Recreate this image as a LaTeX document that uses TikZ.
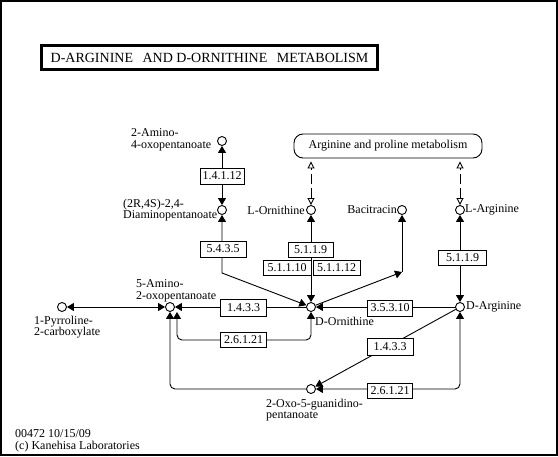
\documentclass[tikz,border=0pt]{standalone}
\usepackage{fontspec}
\setmainfont{Liberation Serif}
\usetikzlibrary{arrows.meta}
\begin{document}
\begin{tikzpicture}[x=1pt,y=-1pt,
 every node/.style={font=\fontsize{12}{12}\selectfont, inner sep=0pt},
 met/.style={draw, circle, minimum size=9pt, line width=0.9pt},
 enz/.style={draw, fill=white, minimum width=46pt, minimum height=16pt, line width=0.9pt},
 lab/.style={align=left, font=\fontsize{12}{11.5}\selectfont},
 conn/.style={line width=0.9pt},
 maplink/.style={line width=0.9pt, dash pattern=on 10pt off 4pt, ko-ko, shorten >=3pt},
 kt/.tip={Triangle[length=7pt,width=8pt]},
 ko/.tip={Triangle[open,length=7pt,width=7pt,line width=0.9pt]},
]
\useasboundingbox (0,0) rectangle (558,457);
\draw[line width=2pt] (1,1) rectangle (556.5,455.5);

% title
\node[draw, line width=3pt, minimum width=336pt, minimum height=24pt,
      font=\fontsize{14}{14}\selectfont] (title) at (209.5,57.5)
      {D-ARGININE\hspace{6pt} AND D-ORNITHINE\hspace{6pt} METABOLISM};

% map box
\node[draw, rounded corners=9pt, minimum width=188pt, minimum height=24pt, line width=0.9pt]
      (apm) at (388,146) {Arginine and proline metabolism};

% compounds
\node[met] (amino4) at (222,141) {};
\node[met] (diamino) at (222,210) {};
\node[met] (lorn) at (311,210) {};
\node[met] (bacit) at (402,210) {};
\node[met] (larg) at (460,210) {};
\node[met] (pyrr) at (62,307) {};
\node[met] (aminox) at (170,307) {};
\node[met] (dorn) at (311,307) {};
\node[met] (darg) at (460,307) {};
\node[met] (oxog) at (311,389) {};

% free points
\coordinate (bend) at (222,273);
\coordinate (bcorner) at (402,272);
\coordinate (aminoxR) at (177,312);
\coordinate (iloop) at (177,340);

% connectors
\draw[conn, kt-kt] (amino4) -- (diamino);
\draw[conn, kt-kt] (diamino) -- (bend) -- (dorn);
\draw[conn, kt-kt] (lorn) -- (dorn);
\draw[conn, -kt] (dorn) -- (bcorner);
\draw[conn, -kt] (bcorner) -- (bacit);
\draw[conn, kt-kt] (larg) -- (darg);
\draw[conn, kt-kt] (pyrr) -- (aminox);
\draw[conn, -kt] (dorn) -- (aminox);
\draw[conn, -kt] (darg) -- (dorn);
\draw[conn, -kt] (darg) -- (oxog);
\draw[conn, kt-kt, rounded corners=5pt] (dorn) |- (iloop) -- (aminoxR);
\draw[conn, kt-kt, rounded corners=5pt] (darg) |- (oxog);
\draw[conn, -kt, rounded corners=5pt] (oxog) -| (aminox);
\draw[maplink] (lorn) -- (lorn |- apm.south);
\draw[maplink] (larg) -- (larg |- apm.south);

% enzymes
\node[enz, minimum width=44pt] (e1) at (222,176) {1.4.1.12};
\node[enz] (e2) at (223,249) {5.4.3.5};
\node[enz, minimum width=45pt, minimum height=15pt] (e3) at (310.5,249.5) {5.1.1.9};
\node[enz, minimum width=48pt, minimum height=15pt] (e4) at (287,268) {5.1.1.10};
\node[enz, minimum width=47pt, minimum height=15pt] (e5) at (336.5,268) {5.1.1.12};
\node[enz, minimum width=48pt, minimum height=15pt] (e6) at (462.5,258) {5.1.1.9};
\node[enz, minimum height=17pt] (e7) at (243.5,307.5) {1.4.3.3};
\node[enz, minimum height=15pt] (e8) at (243.5,340) {2.6.1.21};
\node[enz, minimum width=45pt] (e9) at (390,308) {3.5.3.10};
\node[enz, minimum height=17pt] (e10) at (390,346.5) {1.4.3.3};
\node[enz, minimum width=45pt, minimum height=15pt] (e11) at (390,390.5) {2.6.1.21};

% labels
\node[lab, anchor=west] (l1) at (131,140) {2-Amino-\\4-oxopentanoate};
\node[lab, anchor=west] (l2) at (123,210) {(2R,4S)-2,4-\\Diaminopentanoate};
\node[lab, anchor=east] (l3) at (305,210) {L-Ornithine};
\node[lab, anchor=east] (l4) at (397,210) {Bacitracin};
\node[lab, anchor=west] (l5) at (465,210) {L-Arginine};
\node[lab, anchor=west] (l6) at (136,291) {5-Amino-\\2-oxopentanoate};
\node[lab, anchor=west] (l7) at (34,327) {1-Pyrroline-\\2-carboxylate};
\node[lab, anchor=west] (l8) at (315,321) {D-Ornithine};
\node[lab, anchor=west] (l9) at (466,307) {D-Arginine};
\node[lab, anchor=west] (l10) at (266,410) {2-Oxo-5-guanidino-\\pentanoate};
\node[lab, anchor=west] (l11) at (15,441) {00472 10/15/09\\(c) Kanehisa Laboratories};
\end{tikzpicture}
\end{document}
